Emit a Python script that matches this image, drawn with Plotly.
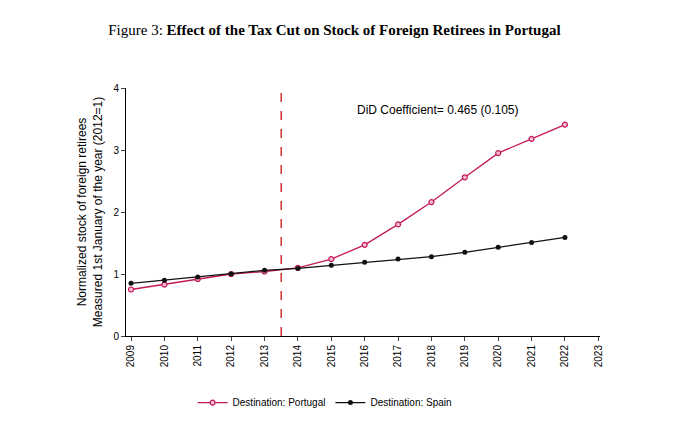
import plotly.graph_objects as go

years = list(range(2009, 2023))
portugal = [0.75, 0.83, 0.92, 1.00, 1.04, 1.10, 1.24, 1.47, 1.80, 2.16, 2.56, 2.95, 3.18, 3.41]
spain = [0.85, 0.90, 0.95, 1.00, 1.06, 1.09, 1.14, 1.19, 1.24, 1.28, 1.35, 1.43, 1.51, 1.59]
x_ticks = list(range(2009, 2024))
y_ticks = [0, 1, 2, 3, 4]

PINK = "#c2185b"
BLACK = "#111111"

fig = go.Figure()
fig.add_trace(go.Scatter(
    x=years, y=portugal, mode="lines+markers", name="Destination: Portugal",
    line=dict(color=PINK, width=1.3),
    marker=dict(size=5, color="#f8bbd0", line=dict(color=PINK, width=1.2)),
))
fig.add_trace(go.Scatter(
    x=years, y=spain, mode="lines+markers", name="Destination: Spain",
    line=dict(color=BLACK, width=1.3),
    marker=dict(size=5, color=BLACK),
))
fig.add_vline(x=2013.5, line=dict(color="#d32f2f", width=1.5, dash="dash"))
fig.add_annotation(x=2018.2, y=3.65, text="DiD Coefficient= 0.465 (0.105)",
                   showarrow=False, font=dict(size=12, color="black"))

fig.update_layout(
    width=680, height=421,
    plot_bgcolor="white", paper_bgcolor="white",
    font=dict(family="Liberation Sans, Arial, sans-serif", size=10, color="black"),
    title=dict(
        text="Figure 3: <b>Effect of the Tax Cut on Stock of Foreign Retirees in Portugal</b>",
        font=dict(family="Liberation Serif, Times New Roman, serif", size=15, color="black"),
        x=0.48, xanchor="center", y=0.948, yanchor="middle",
    ),
    margin=dict(l=118, r=88, t=80, b=77),
    showlegend=True,
    legend=dict(orientation="h", x=0.42, xanchor="center", y=-0.21, yanchor="top",
                font=dict(size=10)),
    xaxis=dict(range=[2008.85, 2023.05], tickvals=x_ticks, tickangle=-90,
               showgrid=False, zeroline=False, showline=True, linecolor="black",
               ticks="outside", ticklen=4, automargin=False),
    yaxis=dict(range=[0, 4], tickvals=y_ticks, showgrid=False, zeroline=False,
               showline=True, linecolor="black", ticks="outside", ticklen=4,
               automargin=False,
               title=dict(text="Normalized stock of foreign retirees<br>Measured 1st January of the year (2012=1)",
                          font=dict(size=12), standoff=8)),
)
fig.write_html("out.html")
